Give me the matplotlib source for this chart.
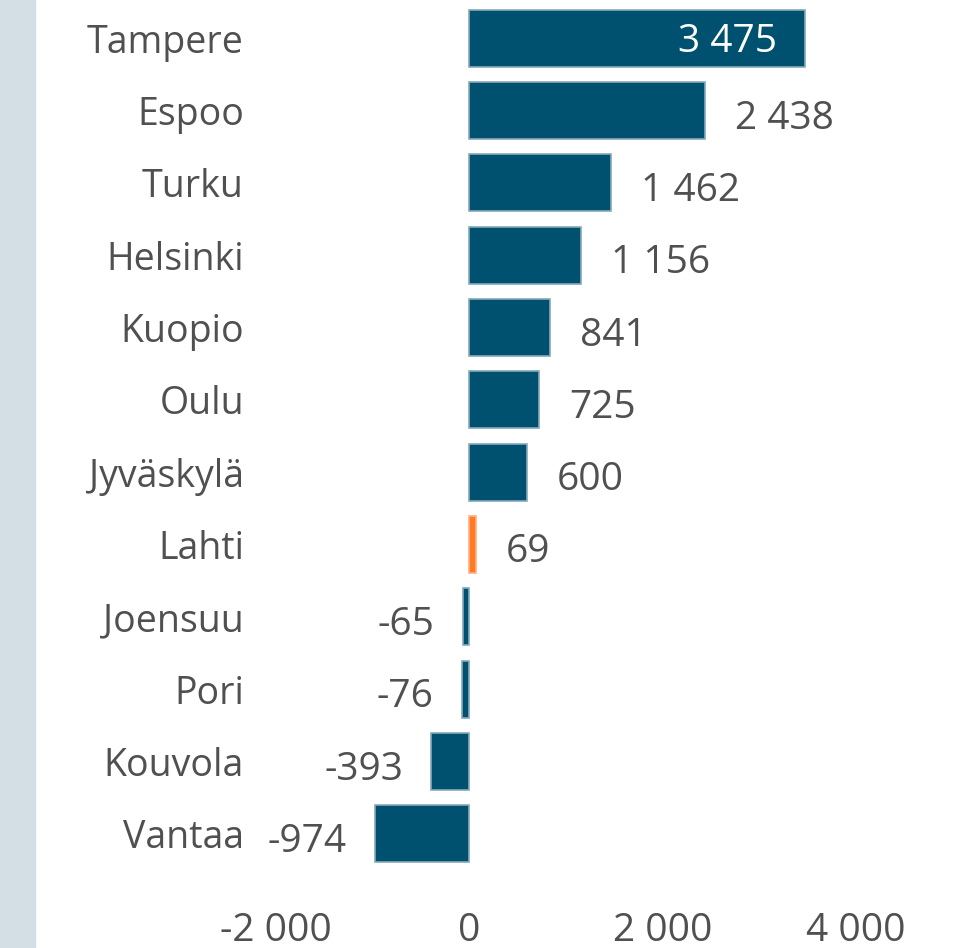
import matplotlib.pyplot as plt
from matplotlib.patches import Rectangle

cities = ['Tampere', 'Espoo', 'Turku', 'Helsinki', 'Kuopio', 'Oulu',
          'Jyväskylä', 'Lahti', 'Joensuu', 'Pori', 'Kouvola', 'Vantaa']
values = [3475, 2438, 1462, 1156, 841, 725, 600, 69, -65, -76, -393, -974]
highlight = 'Lahti'
xticks = [-2000, 0, 2000, 4000]

plt.rcParams['font.family'] = ['Open Sans', 'DejaVu Sans']

def fmt(v):
    return f'{v:,}'.replace(',', ' ')

fig = plt.figure(figsize=(9.58, 9.48), dpi=100)
fig.patches.append(Rectangle((0, 0), 35 / 958, 1, transform=fig.transFigure,
                             color='#d3dfe5', zorder=0))

# axes: 0 at x=469px, 0.0968 px per unit
left_px, right_px = 255, 958
ax = fig.add_axes([left_px / 958, 1 - 870 / 948, (right_px - left_px) / 958, 868 / 948])
scale = 0.0968
ax.set_xlim((left_px - 469) / scale, (right_px - 469) / scale)
ax.set_ylim(len(cities) - 0.5, -0.5)

colors = ['#ff7a21' if c == highlight else '#00506f' for c in cities]
edges = ['#ffb08a' if c == highlight else '#86a9ba' for c in cities]
ax.barh(range(len(cities)), values, height=0.79, color=colors,
        edgecolor=edges, linewidth=1.2)

vsize = 28
for i, v in enumerate(values):
    if i == 0:
        ax.annotate(fmt(v), (v, i), xytext=(-28, -4), textcoords='offset pixels',
                    ha='right', va='center', color='white', fontsize=vsize)
    elif v >= 0:
        ax.annotate(fmt(v), (v, i), xytext=(30, -8), textcoords='offset pixels',
                    ha='left', va='center', color='#505050', fontsize=vsize)
    else:
        ax.annotate(fmt(v), (v, i), xytext=(-28, -8), textcoords='offset pixels',
                    ha='right', va='center', color='#505050', fontsize=vsize)

ax.set_yticks(range(len(cities)))
ax.set_yticklabels(cities, fontsize=27, color='#505050')
ax.set_xticks(xticks)
ax.set_xticklabels([fmt(t) for t in xticks], fontsize=28, color='#505050')
ax.tick_params(axis='y', length=0, pad=8)
ax.tick_params(axis='x', length=0, pad=30)
for s in ax.spines.values():
    s.set_visible(False)

fig.savefig('out.png', dpi=100)
